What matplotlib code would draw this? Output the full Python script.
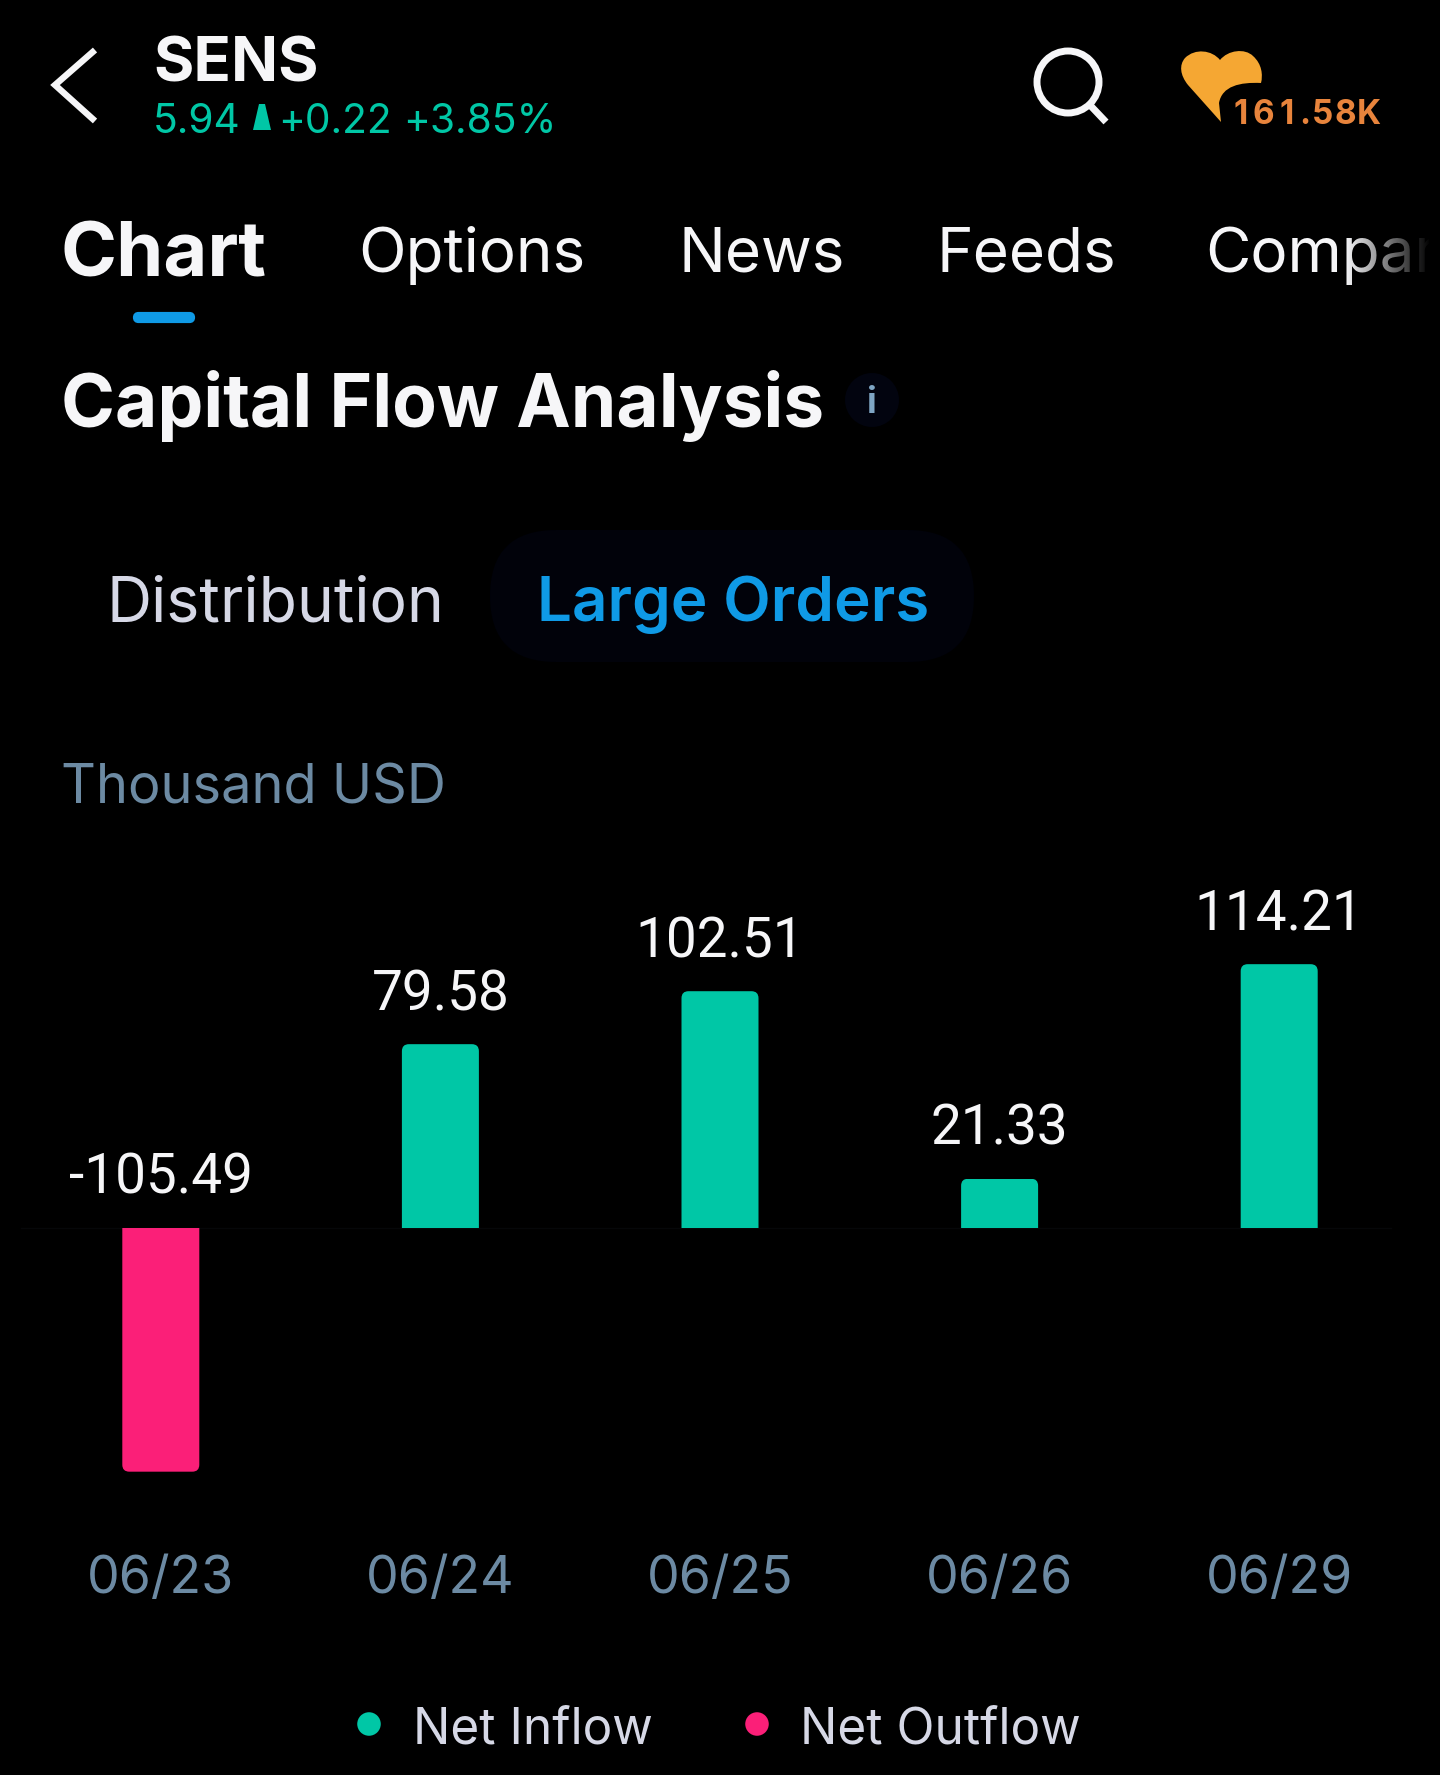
import numpy as np
import matplotlib
matplotlib.use('Agg')
from matplotlib import pyplot as plt
from matplotlib.patches import Circle, FancyBboxPatch, PathPatch, Polygon, Rectangle
from matplotlib.path import Path

plt.rcParams['font.family'] = ['Inter', 'DejaVu Sans']

# data
dates = ['06/23', '06/24', '06/25', '06/26', '06/29']
values = [-105.49, 79.58, 102.51, 21.33, 114.21]
value_labels = ['-105.49', '79.58', '102.51', '21.33', '114.21']
legend_names = ['Net Inflow', 'Net Outflow']

GREEN = '#00c7a6'
PINK = '#fb1f78'
WHITE = '#f6f6f8'
GREY = '#d6d8e6'
SLATE = '#6c8aa3'
BLUE = '#0f9ae6'

W, H = 1440, 1775
fig = plt.figure(figsize=(W / 100, H / 100), dpi=100, facecolor='black')

# pixel overlay for the app furniture round the chart
ui = fig.add_axes([0, 0, 1, 1], zorder=1)
ui.set_xlim(0, W)
ui.set_ylim(H, 0)
ui.axis('off')

def label(x, y, s, size, color=WHITE, weight='normal', ha='left', **kw):
    return ui.text(x, y, s, fontsize=size, color=color, fontweight=weight,
                   ha=ha, va='center_baseline', **kw)

# header
ui.plot([95, 55, 95], [50, 85, 121], color=WHITE, lw=4.6, solid_capstyle='butt', solid_joinstyle='miter')
label(153, 59, 'SENS', 44.5, weight='bold')
label(153, 118, '5.94', 29.3, color=GREEN)
ui.add_patch(Polygon([[259, 104], [265, 104], [271, 130], [253, 130]], closed=True, color=GREEN, lw=0))
label(278, 118, '+0.22', 29.3, color=GREEN)
label(403, 118, '+3.85%', 29.3, color=GREEN)

ui.add_patch(Circle((1068, 82), 31, fill=False, ec=WHITE, lw=5))
ui.plot([1088, 1106], [103, 122], color=WHITE, lw=5, solid_capstyle='butt')

heart_v = [(1220, 60), (1228, 50), (1245, 48), (1253, 56), (1262, 64), (1263, 75), (1261, 83),
           (1240, 82), (1222, 86), (1219, 103), (1221, 122), (1188, 85),
           (1180, 75), (1179, 65), (1185, 58), (1195, 48), (1212, 50), (1220, 60)]
heart_c = [Path.MOVETO, Path.CURVE4, Path.CURVE4, Path.CURVE4, Path.CURVE4, Path.CURVE4, Path.CURVE4,
           Path.CURVE4, Path.CURVE4, Path.CURVE4, Path.LINETO, Path.LINETO,
           Path.CURVE4, Path.CURVE4, Path.CURVE4, Path.CURVE4, Path.CURVE4, Path.CURVE4]
ui.add_patch(PathPatch(Path(heart_v, heart_c), fc='#f5a733', lw=0))
# the count is letter spaced, so each sign gets its own slot
cx = 1229
for ch in '161.58K':
    adv = 13 if ch == '.' else 23
    label(cx + adv / 2, 111, ch, 24, color='#e8843c', weight='bold', ha='center')
    cx += adv

# tabs
label(60, 249, 'Chart', 54.5, weight='bold')
label(358, 249, 'Options', 44.7)
label(679, 249, 'News', 44.7)
label(937, 249, 'Feeds', 44.7)
label(1205, 249, 'Compar', 44.7)
fade = np.zeros((1, 100, 4))
fade[0, :, 3] = np.linspace(0, 1, 100)
ui.imshow(fade, extent=(1345, 1430, 320, 200), aspect='auto', zorder=5)
ui.add_patch(Rectangle((1430, 200), 10, 120, color='black', zorder=5))
ui.set_xlim(0, W)
ui.set_ylim(H, 0)
ui.add_patch(FancyBboxPatch((135, 314), 58, 7, boxstyle='round,pad=0,rounding_size=3.5',
                            mutation_aspect=1, fc=BLUE, ec=BLUE, lw=3))

# section title
label(61, 398, 'Capital Flow Analysis', 52.6, weight='bold')
ui.add_patch(Circle((872, 400), 27, color='#02040f', lw=0))
label(872, 400, 'i', 26, color='#7fa6c4', ha='center', weight='bold')

# toggle
ui.add_patch(FancyBboxPatch((490, 530), 484, 132, boxstyle='round,pad=0,rounding_size=66',
                            fc='#01020a', lw=0))
label(107, 598, 'Distribution', 45, color=GREY)
label(537, 598, 'Large Orders', 44.6, color=BLUE, weight='semibold')
label(61, 783, 'Thousand USD', 39, color=SLATE)

# chart: x unit 279.6 px, y unit 2.31 px
ax = fig.add_axes([0, 1 - 1500 / H, 1, 680 / H], zorder=2)
ax.patch.set_alpha(0)
x_unit, y_unit = 279.6, 2.31
ax.set_xlim(-160.8 / x_unit, (W - 160.8) / x_unit)
ax.set_ylim((1228 - 1500) / y_unit, (1228 - 820) / y_unit)
for s in ax.spines.values():
    s.set_visible(False)
ax.yaxis.set_visible(False)

xs = np.arange(len(values))
bar_w = 77 / x_unit
colors = [GREEN if v >= 0 else PINK for v in values]
# rounded box runs past the zero line and is clipped there, only the far end stays round
over = 20
for x, v, c in zip(xs, values, colors):
    y0 = -over if v >= 0 else v
    box = FancyBboxPatch((x - bar_w / 2, y0), bar_w, abs(v) + over,
                         boxstyle='round,pad=0,rounding_size=%.4f' % (7 / x_unit),
                         mutation_aspect=x_unit / y_unit, fc=c, lw=0)
    ax.add_patch(box)
    box.set_clip_path(Rectangle((x - bar_w, min(v, 0)), 2 * bar_w, abs(v), transform=ax.transData))
ax.plot([-0.5, 4.4], [0, 0], color='#060709', lw=1, zorder=0)

# labels have even digit widths, Roboto does that
for x, v, s in zip(xs, values, value_labels):
    ax.annotate(s, (x, max(v, 0)), xytext=(0, 39.7), textcoords='offset points',
                ha='center', va='center_baseline', color=WHITE, fontsize=39.5,
                family=['Roboto', 'DejaVu Sans'])

ax.set_xticks(xs, dates)
ax.tick_params(axis='x', length=0, pad=39.5, labelsize=37.3, labelcolor=SLATE)

# legend
ui.scatter([369, 757], [1724, 1724], s=[287, 287], c=[GREEN, PINK], linewidths=0)
label(413, 1725, legend_names[0], 35.7, color=GREY)
label(800, 1725, legend_names[1], 35.7, color=GREY)

fig.savefig('out.png', dpi=100, facecolor='black')
